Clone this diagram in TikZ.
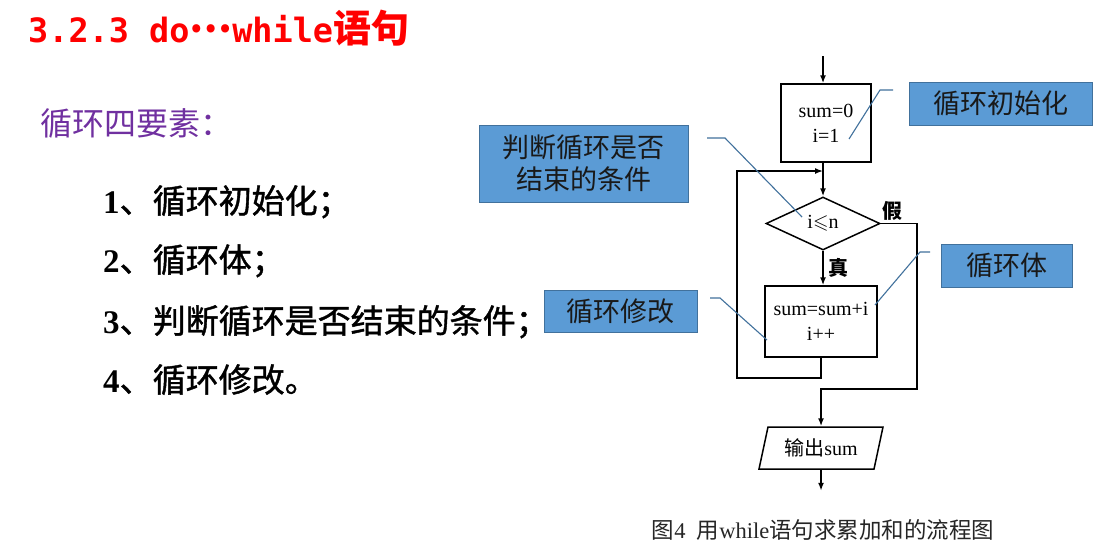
\documentclass[tikz,border=0pt]{standalone}
\usepackage{fontspec}
\usepackage{amssymb}
\setmainfont{Liberation Serif}
\newfontfamily\cjk{Noto Sans CJK SC}
\newfontfamily\cjkheavy{Noto Sans CJK SC}[FakeBold=1.2]
\newfontfamily\mono{DejaVu Sans Mono}
\usetikzlibrary{shapes.geometric,arrows.meta}
\definecolor{calloutblue}{HTML}{5B9BD5}
\definecolor{calloutedge}{HTML}{41719C}
\definecolor{leadercol}{HTML}{41719C}
\definecolor{titlered}{HTML}{FF0000}
\definecolor{purp}{HTML}{7030A0}
\begin{document}
\begin{tikzpicture}[x=1pt,y=-1pt,
  flowline/.style={line width=1.5pt, black},
  flowarrow/.style={flowline, -{Latex[length=8pt,width=6pt]}},
  procbox/.style={draw, line width=1.5pt, rectangle, inner sep=0pt, align=center, font=\fontsize{20}{25}\selectfont},
  decbox/.style={draw, line width=1.5pt, diamond, inner sep=0pt, minimum width=114pt, minimum height=53pt, aspect=2.15, font=\fontsize{20}{24}\selectfont},
  iobox/.style={draw, line width=1.5pt, trapezium, trapezium left angle=64, trapezium right angle=116, trapezium stretches body, minimum width=124pt, minimum height=42pt, inner sep=0pt, font=\fontsize{20}{24}\selectfont},
  callout/.style={draw=calloutedge, fill=calloutblue, line width=1pt, inner sep=0pt, align=center, text=black!90, font=\cjk\fontsize{27}{32}\selectfont},
  leader/.style={draw=leadercol, line width=1.1pt},
  listitem/.style={anchor=base west, inner sep=0pt, font=\fontsize{33}{36}\selectfont},
  branchlabel/.style={inner sep=0pt, font=\cjk\bfseries\fontsize{20}{24}\selectfont},
  textline/.style={anchor=base west, inner sep=0pt}
]
\fill[white] (0,0) rectangle (1105,547);
\useasboundingbox (0,0) rectangle (1105,547);

% title and list
\node[textline, text=titlered, font=\bfseries] (title) at (28,42)
  {{\mono\fontsize{33.5}{40}\selectfont 3.2.3 do}{\cjk\fontsize{38}{40}\selectfont\raisebox{10pt}{…}}{\mono\fontsize{33.5}{40}\selectfont while}{\cjk\fontsize{38}{40}\selectfont 语句}};
\node[textline, text=purp, font=\cjk\fontsize{32}{36}\selectfont] (head) at (40,135) {循环四要素：};
\node[listitem] (i1) at (103,213) {\textbf{1}{\cjkheavy 、循环初始化；}};
\node[listitem] (i2) at (103,272) {\textbf{2}{\cjkheavy 、循环体；}};
\node[listitem] (i3) at (103,333) {\textbf{3}{\cjkheavy 、判断循环是否结束的条件；}};
\node[listitem] (i4) at (103,392) {\textbf{4}{\cjkheavy 、循环修改。}};

% flowchart
\node[procbox, minimum width=90pt, minimum height=78pt] (init) at (826,123) {sum=0\\i=1};
\node[decbox] (cond) at (823,223.5) {i$\leqslant$n};
\node[procbox, minimum width=112pt, minimum height=71pt] (body) at (821,321.5) {sum=sum+i\\i++};
\node[iobox] (out) at (821,448) {{\cjk 输出}sum};
\node[branchlabel] (lf) at (892,211) {假};
\node[branchlabel] (lt) at (838,268) {真};

\coordinate (start) at (823,56);
\coordinate (loopL) at (737,378);
\coordinate (loopT) at (737,171);
\coordinate (falseR) at (917,389);
\draw[flowarrow] (start) -- (start |- init.north);
\draw[flowarrow] (cond.north |- init.south) -- (cond.north);
\draw[flowarrow] (cond.south) -- (cond.south |- body.north);
\draw[flowarrow] (body.south) |- (loopL) -- (loopT) -- (loopT -| cond.north);
\draw[flowarrow] (cond.east) -| (falseR) -| (out.north);
\draw[flowarrow] (out.south) -- ++(0,21);

% callouts
\node[callout, minimum width=183pt, minimum height=43pt] (cInit) at (1000.5,103.5) {循环初始化};
\node[callout, minimum width=209pt, minimum height=77pt] (cCond) at (583.5,163.5) {判断循环是否\\结束的条件};
\node[callout, minimum width=131pt, minimum height=43pt] (cBody) at (1006.5,265.5) {循环体};
\node[callout, minimum width=153pt, minimum height=42pt] (cMod) at (620.5,311) {循环修改};

\coordinate (lInitA) at (893,90);
\coordinate (lInitB) at (880,90);
\coordinate (lInitC) at (849,139);
\coordinate (lCondA) at (707,138);
\coordinate (lCondB) at (725,138);
\coordinate (lCondC) at (802,217);
\coordinate (lBodyA) at (930,252);
\coordinate (lBodyB) at (920,252);
\coordinate (lBodyC) at (875,305);
\coordinate (lModA) at (710,298);
\coordinate (lModB) at (720,298);
\coordinate (lModC) at (767,340);
\draw[leader] (lInitA) -- (lInitB) -- (lInitC);
\draw[leader] (lCondA) -- (lCondB) -- (lCondC);
\draw[leader] (lBodyA) -- (lBodyB) -- (lBodyC);
\draw[leader] (lModA) -- (lModB) -- (lModC);

% caption
\node[inner sep=0pt, text=black!85, font=\fontsize{22.5}{24}\selectfont] (cap) at (823,530)
  {{\cjk 图}4\ \ {\cjk 用}while{\cjk 语句求累加和的流程图}};
\end{tikzpicture}
\end{document}
